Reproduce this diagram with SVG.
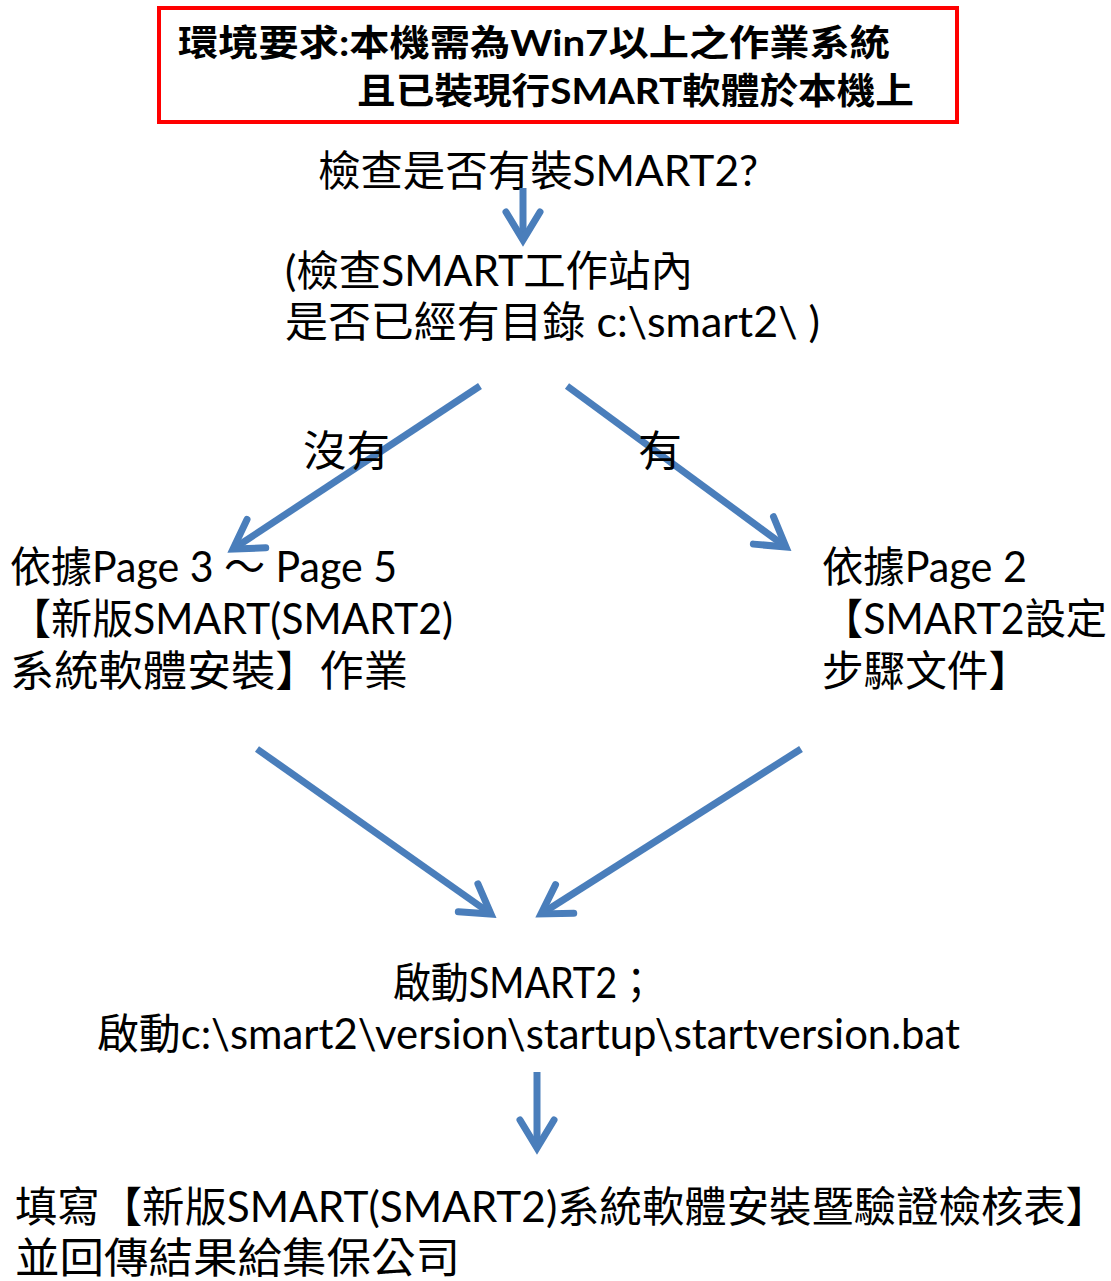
<svg xmlns="http://www.w3.org/2000/svg" width="1111" height="1281" viewBox="0 0 1111 1281">
<style>
.t{font-family:Lato,"Noto Sans CJK TC",sans-serif;font-size:42px;fill:#000}
.b{font-weight:bold;font-size:36px}
.c{stroke:#4A7EBB;stroke-width:7;fill:none}
</style>
<defs>
<marker id="ah" markerUnits="userSpaceOnUse" markerWidth="44" markerHeight="44" viewBox="0 0 44 44" refX="37" refY="22" orient="auto">
<path d="M9,5 L37,22 L9,39" fill="none" stroke="#4A7EBB" stroke-width="7" stroke-linecap="round" stroke-linejoin="miter"/>
</marker>
</defs>
<rect width="1111" height="1281" fill="#fff"/>
<g id="env">
<rect x="159" y="8" width="798" height="114" fill="none" stroke="#f00" stroke-width="4"/>
<text class="t b" x="178" y="56" textLength="712" lengthAdjust="spacingAndGlyphs">環境要求:本機需為Win7以上之作業系統</text>
<text class="t b" x="357" y="104" textLength="557" lengthAdjust="spacingAndGlyphs">且已裝現行SMART軟體於本機上</text>
</g>
<g id="check">
<text class="t" x="318" y="186" textLength="440" lengthAdjust="spacingAndGlyphs">檢查是否有裝SMART2?</text>
</g>
<g id="detail">
<text class="t" x="285" y="286" textLength="408" lengthAdjust="spacingAndGlyphs">(檢查SMART工作站內</text>
<text class="t" x="285" y="337" textLength="535" lengthAdjust="spacingAndGlyphs">是否已經有目錄 c:\smart2\ )</text>
</g>
<g id="left">
<text class="t" x="10" y="582" textLength="387" lengthAdjust="spacingAndGlyphs">依據Page 3 ～ Page 5</text>
<text class="t" x="10" y="634" textLength="443" lengthAdjust="spacingAndGlyphs">【新版SMART(SMART2)</text>
<text class="t" x="10" y="686" textLength="398" lengthAdjust="spacingAndGlyphs">系統軟體安裝】作業</text>
</g>
<g id="right">
<text class="t" x="822" y="582" textLength="205" lengthAdjust="spacingAndGlyphs">依據Page 2</text>
<text class="t" x="822" y="634" textLength="285" lengthAdjust="spacingAndGlyphs">【SMART2設定</text>
<text class="t" x="822" y="686" textLength="208" lengthAdjust="spacingAndGlyphs">步驟文件】</text>
</g>
<g id="start">
<text class="t" x="393" y="998" textLength="262" lengthAdjust="spacingAndGlyphs">啟動SMART2；</text>
<text class="t" x="97" y="1049" textLength="863" lengthAdjust="spacingAndGlyphs">啟動c:\smart2\version\startup\startversion.bat</text>
</g>
<g id="fill">
<text class="t" x="15" y="1222" textLength="1093" lengthAdjust="spacingAndGlyphs">填寫【新版SMART(SMART2)系統軟體安裝暨驗證檢核表】</text>
<text class="t" x="15" y="1273" textLength="445" lengthAdjust="spacingAndGlyphs">並回傳結果給集保公司</text>
</g>
<g id="connectors">
<line class="c" x1="523" y1="188" x2="523" y2="240" marker-end="url(#ah)"/>
<line class="c" x1="480" y1="386" x2="233" y2="549" marker-end="url(#ah)"/>
<line class="c" x1="567" y1="386" x2="786" y2="547" marker-end="url(#ah)"/>
<line class="c" x1="257" y1="749" x2="491" y2="914" marker-end="url(#ah)"/>
<line class="c" x1="801" y1="749" x2="541" y2="914" marker-end="url(#ah)"/>
<line class="c" x1="537" y1="1072" x2="537" y2="1148" marker-end="url(#ah)"/>
<text class="t" x="303" y="466" textLength="87" lengthAdjust="spacingAndGlyphs">沒有</text>
<text class="t" x="638" y="466" textLength="44" lengthAdjust="spacingAndGlyphs">有</text>
</g>
</svg>
